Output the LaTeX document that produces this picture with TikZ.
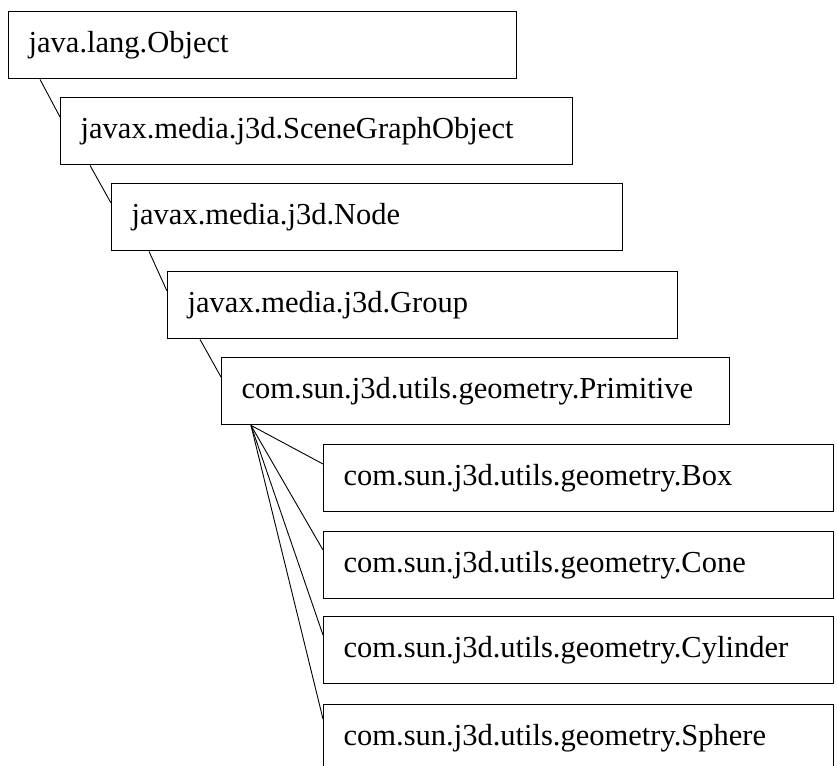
\documentclass[tikz,border=0pt]{standalone}
\usepackage{fontspec}
\setmainfont{Liberation Serif}
\begin{document}
\begin{tikzpicture}[x=1pt,y=-1pt,
  cbox/.style={draw=black, line width=1.4pt, rectangle, anchor=north west,
    minimum height=67pt, inner xsep=20pt, inner ysep=0pt, text width=#1-40pt,
    align=left, font=\fontsize{30.5}{36}\selectfont},
  link/.style={draw=black, line width=0.9pt}]
\useasboundingbox (0,0) rectangle (837,765);
\clip (0,0) rectangle (837,765);
\fill[white] (0,0) rectangle (837,765);
\node[cbox=508pt] (obj) at (8,11) {java.lang.Object};
\node[cbox=512pt] (sgo) at (60,97) {javax.media.j3d.SceneGraphObject};
\node[cbox=511pt] (nod) at (111,183) {javax.media.j3d.Node};
\node[cbox=510pt] (grp) at (167,271) {javax.media.j3d.Group};
\node[cbox=508pt] (prm) at (221,357) {com.sun.j3d.utils.geometry.Primitive};
\node[cbox=510pt] (box) at (323,444) {com.sun.j3d.utils.geometry.Box};
\node[cbox=510pt] (con) at (323,531) {com.sun.j3d.utils.geometry.Cone};
\node[cbox=510pt] (cyl) at (323,616) {com.sun.j3d.utils.geometry.Cylinder};
\node[cbox=510pt] (sph) at (323,704) {com.sun.j3d.utils.geometry.Sphere};
\draw[link] ([xshift=32pt]obj.south west) -- ([yshift=-20pt]sgo.north west);
\draw[link] ([xshift=30pt]sgo.south west) -- ([yshift=-20pt]nod.north west);
\draw[link] ([xshift=38pt]nod.south west) -- ([yshift=-20pt]grp.north west);
\draw[link] ([xshift=33pt]grp.south west) -- ([yshift=-20pt]prm.north west);
\coordinate (hub) at ([xshift=30pt]prm.south west);
\draw[link] (hub) -- ([yshift=-20pt]box.north west);
\draw[link] (hub) -- ([yshift=-19pt]con.north west);
\draw[link] (hub) -- ([yshift=-19pt]cyl.north west);
\draw[link] (hub) -- ([yshift=-15pt]sph.north west);
\end{tikzpicture}
\end{document}
